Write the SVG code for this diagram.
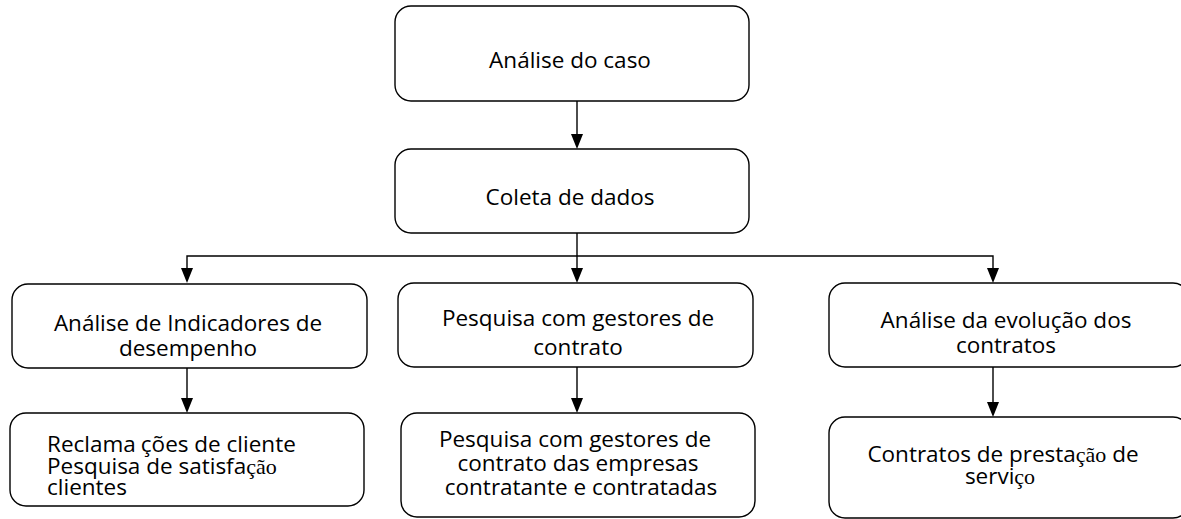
<svg xmlns="http://www.w3.org/2000/svg" width="1181" height="519" viewBox="0 0 1181 519">
<style>
.box{fill:#fff;stroke:#000;stroke-width:1.4}
.t{font-family:"Open Sans","Liberation Sans",sans-serif;font-size:22.5px;fill:#000}
.c{text-anchor:middle}
.s{font-family:"Liberation Serif",serif;font-size:22px}
.ln{fill:none;stroke:#000;stroke-width:1.4}
</style>
<rect width="1181" height="519" fill="#fff"/>
<g id="connectors">
<line class="ln" x1="577" y1="101" x2="577" y2="134"/>
<path d="M571,134 L583,134 L577,149 Z"/>
<line class="ln" x1="577" y1="233" x2="577" y2="256"/>
<polyline class="ln" points="187,268 187,256 993,256 993,268"/>
<line class="ln" x1="577" y1="256" x2="577" y2="268"/>
<path d="M181,268 L193,268 L187,283 Z"/>
<path d="M571,268 L583,268 L577,283 Z"/>
<path d="M987,268 L999,268 L993,283 Z"/>
<line class="ln" x1="187" y1="368" x2="187" y2="398"/>
<path d="M181,398 L193,398 L187,413 Z"/>
<line class="ln" x1="577" y1="367" x2="577" y2="398"/>
<path d="M571,398 L583,398 L577,413 Z"/>
<line class="ln" x1="993" y1="367" x2="993" y2="402"/>
<path d="M987,402 L999,402 L993,417 Z"/>
</g>
<g id="n1">
<rect class="box" x="395" y="6" width="354" height="95" rx="16"/>
<text class="t c" x="570" y="68">Análise do caso</text>
</g>
<g id="n2">
<rect class="box" x="395" y="149" width="354" height="84" rx="16"/>
<text class="t c" x="570" y="205">Coleta de dados</text>
</g>
<g id="n3">
<rect class="box" x="12" y="284" width="355" height="84" rx="16"/>
<text class="t c" x="188" y="331">Análise de Indicadores de</text>
<text class="t c" x="188" y="356">desempenho</text>
</g>
<g id="n4">
<rect class="box" x="398" y="283" width="355" height="84" rx="16"/>
<text class="t c" x="578" y="326">Pesquisa com gestores de</text>
<text class="t c" x="578" y="355">contrato</text>
</g>
<g id="n5">
<rect class="box" x="829" y="283" width="360" height="84" rx="16"/>
<text class="t c" x="1006" y="328">Análise da evolução dos</text>
<text class="t c" x="1006" y="353">contratos</text>
</g>
<g id="n6">
<rect class="box" x="10" y="413" width="354" height="93" rx="16"/>
<text class="t" x="47" y="452">Reclama<tspan dx="5">ções de cliente</tspan></text>
<text class="t" x="47" y="474">Pesquisa de satisfa<tspan class="s">ção</tspan></text>
<text class="t" x="47" y="495">clientes</text>
</g>
<g id="n7">
<rect class="box" x="401" y="413" width="354" height="104" rx="16"/>
<text class="t c" x="575" y="447">Pesquisa com gestores de</text>
<text class="t c" x="578" y="471">contrato das empresas</text>
<text class="t c" x="581" y="495">contratante e contratadas</text>
</g>
<g id="n8">
<rect class="box" x="829" y="417" width="360" height="101" rx="16"/>
<text class="t c" x="1003" y="462">Contratos de presta<tspan class="s">ção</tspan> de</text>
<text class="t c" x="1000" y="484">servi<tspan class="s">ço</tspan></text>
</g>
</svg>
